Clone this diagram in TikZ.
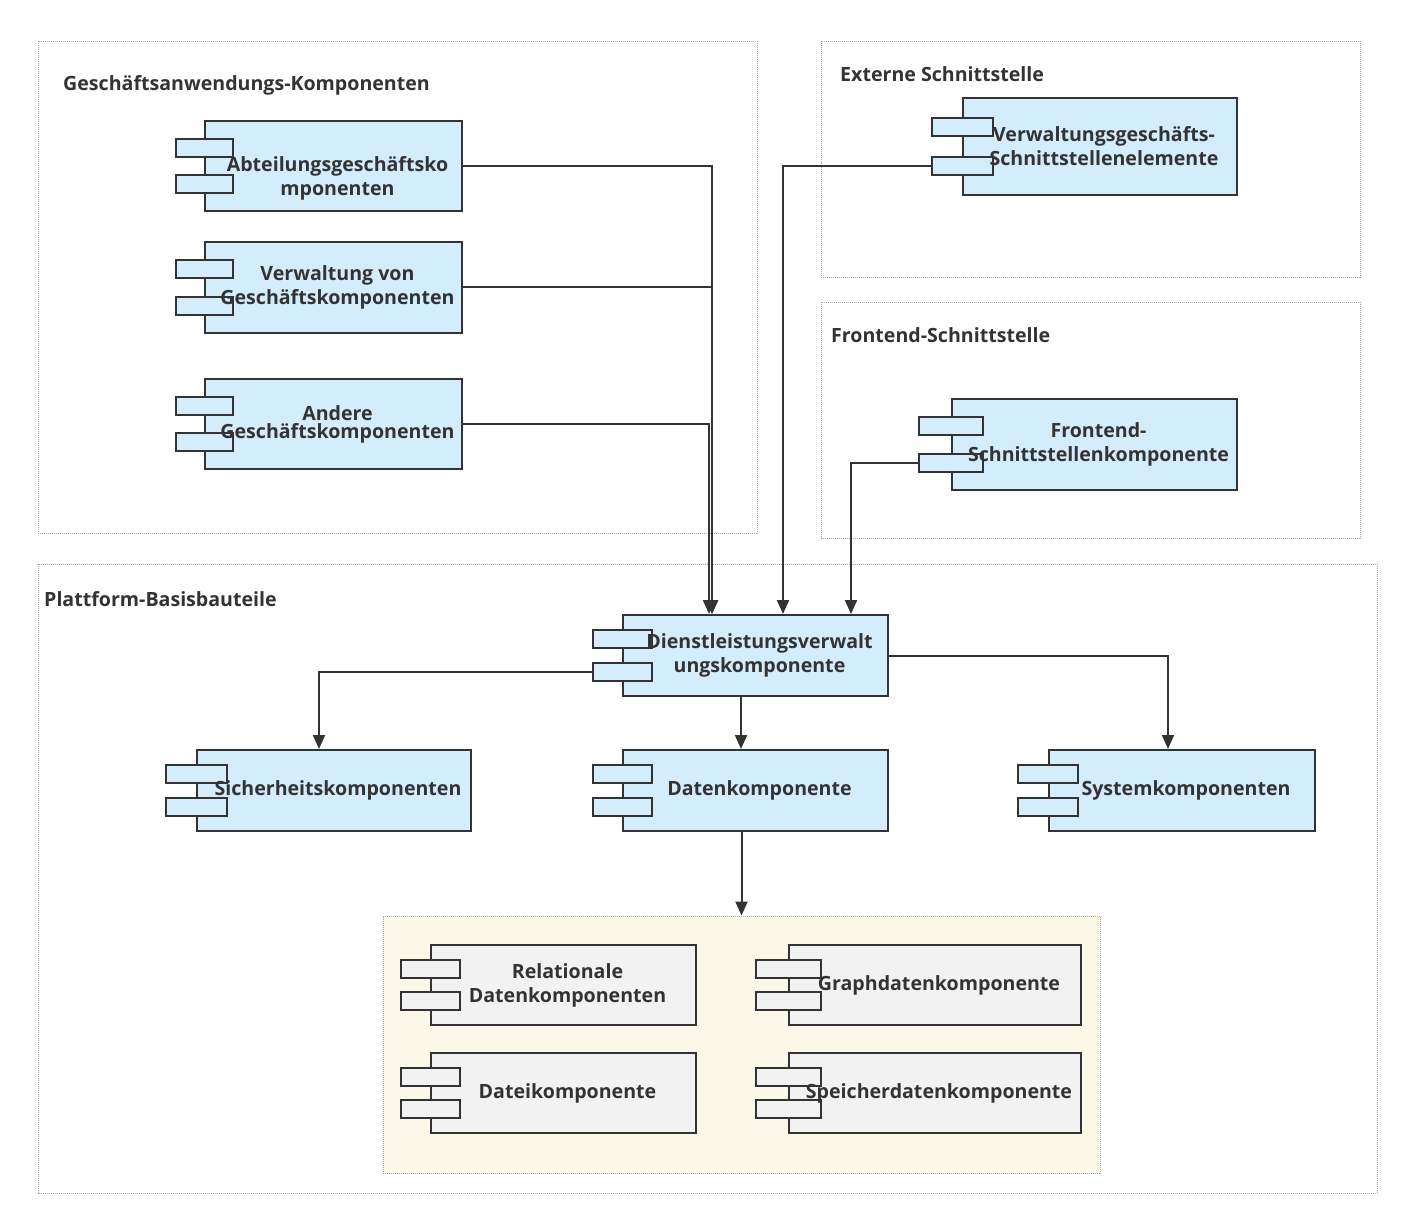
\documentclass[tikz,border=0pt]{standalone}
\usepackage{fontspec}
\setmainfont{Open Sans}
\usetikzlibrary{calc,positioning,arrows.meta}
\definecolor{compblue}{HTML}{D3EDFC}
\definecolor{compgray}{HTML}{F2F2F2}
\definecolor{storeyellow}{HTML}{FBF7E9}
\definecolor{linegray}{HTML}{333333}
\definecolor{framegray}{HTML}{A6A6A6}
\tikzset{
  compbox/.style={draw=linegray, line width=2pt, inner sep=0pt},
  tabbox/.style={draw=linegray, line width=2pt, minimum height=18pt, inner sep=0pt},
  comptext/.style={align=center, xshift=4pt, font=\bfseries\fontsize{19.6}{24}\selectfont, text=linegray},
  grouptitle/.style={anchor=west, inner sep=0pt, font=\bfseries\fontsize{19.6}{22}\selectfont, text=linegray},
  groupframe/.style={draw=framegray, line width=0.8pt, dash pattern=on 1pt off 1pt},
  link/.style={draw=linegray, line width=2pt, -{Triangle[length=14pt,width=12pt]}}
}
% name, x, y, width, height, tab width, fill, label, extra label options
\newcommand{\comp}[9]{%
  \node[compbox, fill=#7, minimum width=#4pt, minimum height=#5pt] (#1) at (#2,#3) {};
  \node[tabbox, fill=#7, minimum width=#6pt] (#1a) at ($(#1.north west)!0.3!(#1.south west)$) {};
  \node[tabbox, fill=#7, minimum width=#6pt] (#1b) at ($(#1.north west)!0.7!(#1.south west)$) {};
  \node[comptext, #9] at (#1) {#8};
}
\begin{document}
\begin{tikzpicture}[x=1pt, y=-1pt]
\useasboundingbox (0,0) rectangle (1414,1230);
% groups
\draw[groupframe] (38,41) rectangle (757,533);
\draw[groupframe] (821,41) rectangle (1360,277);
\draw[groupframe] (821,302) rectangle (1360,538);
\draw[groupframe] (38,564) rectangle (1377,1193);
\node[groupframe, fill=storeyellow, minimum width=717pt, minimum height=257pt] (store) at (741.5,1044.5) {};
\node[grouptitle] (tgesch) at (63,85) {Geschäftsanwendungs-Komponenten};
\node[grouptitle] (textern) at (840,74) {Externe Schnittstelle};
\node[grouptitle] (tfront) at (831,335) {Frontend-Schnittstelle};
\node[grouptitle] (tplatt) at (44,599) {Plattform-Basisbauteile};

% components
\comp{abt}{333.5}{166}{257}{90}{57}{compblue}{Abteilungsgeschäftsko\\mponenten}{yshift=-12pt}
\comp{verw}{333.5}{287.5}{257}{91}{57}{compblue}{Verwaltung von\\Geschäftskomponenten}{}
\comp{andere}{333.5}{424}{257}{90}{57}{compblue}{Andere\\Geschäftskomponenten}{font=\bfseries\fontsize{19.6}{18}\selectfont}
\comp{ext}{1100}{146.5}{274}{97}{61}{compblue}{Verwaltungsgeschäfts-\\Schnittstellenelemente}{}
\comp{front}{1094.5}{444.5}{285}{91}{64}{compblue}{Frontend-\\Schnittstellenkomponente}{}
\comp{dienst}{755.5}{655.5}{265}{81}{59}{compblue}{Dienstleistungsverwalt\\ungskomponente}{}
\comp{sicher}{334}{790.5}{274}{81}{61}{compblue}{Sicherheitskomponenten}{}
\comp{daten}{755.5}{790.5}{265}{81}{59}{compblue}{Datenkomponente}{}
\comp{system}{1182}{790.5}{266}{81}{60}{compblue}{Systemkomponenten}{}
\comp{rel}{563.5}{985}{265}{80}{59}{compgray}{Relationale\\Datenkomponenten}{}
\comp{graph}{935}{985}{292}{80}{65}{compgray}{Graphdatenkomponente}{}
\comp{datei}{563.5}{1093}{265}{80}{59}{compgray}{Dateikomponente}{}
\comp{speicher}{935}{1093}{292}{80}{65}{compgray}{Speicherdatenkomponente}{}

% connectors
\draw[link] (abt.east) -| ($(dienst.north)+(-43.5,0)$);
\draw[link] (verw.east) -| ($(dienst.north)+(-43.5,0)$);
\draw[link] (andere.east) -| ($(dienst.north)+(-46.5,0)$);
\draw[link] (extb.west) -| ($(dienst.north)+(27.5,0)$);
\draw[link] (frontb.west) -| ($(dienst.north)+(95.5,0)$);
\draw[link] (dienstb.west) -| ($(sicher.north)+(-15,0)$);
\draw[link] (dienst.east) -| ($(system.north)+(-14,0)$);
\draw[link] ($(dienst.south)+(-14.5,0)$) -- ($(daten.north)+(-14.5,0)$);
\draw[link] (store.north |- daten.south) -- (store.north);
\end{tikzpicture}
\end{document}
